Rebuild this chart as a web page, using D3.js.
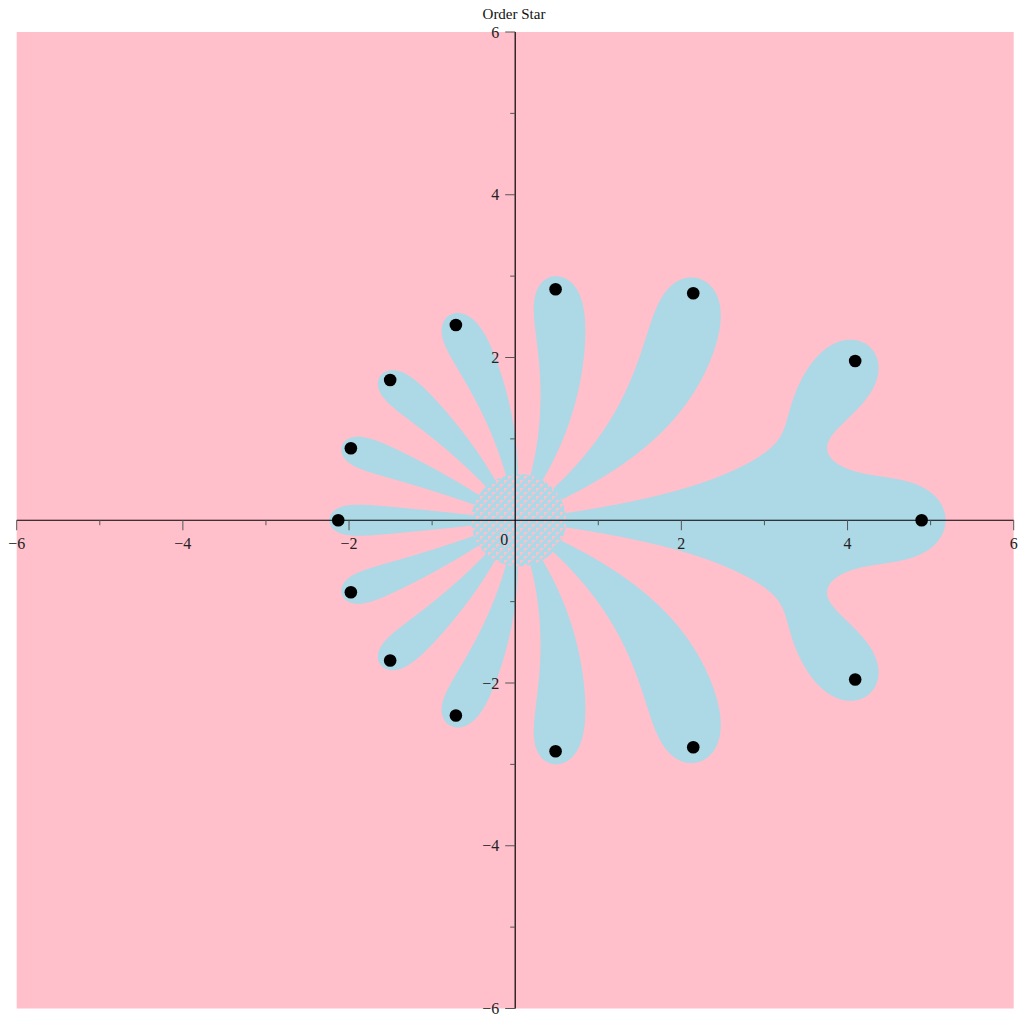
<!DOCTYPE html>
<html><head><meta charset="utf-8">
<script src="https://cdn.jsdelivr.net/npm/d3@7"></script>
<style>body{margin:0;background:#fff;} text{font-family:"Liberation Serif","Times New Roman",Times,serif;}</style>
</head><body>
<svg id="chart" width="1024" height="1024"></svg>
<script>
// ---------------- data ----------------
const chartTitle = "Order Star";
const zeroRe = [4.892, 4.092, 2.143, 0.486, -0.714, -1.505, -1.978, -2.130];
const zeroIm = [0, 1.957, 2.789, 2.838, 2.399, 1.723, 0.884, 0];
const xDomain = [-6, 6];
const yDomain = [-6, 6];
const majorTicks = [-6, -4, -2, 2, 4, 6];
const minorTicks = [-5, -3, -1, 1, 3, 5];
const originLabel = ["0"];
// model of R = P/Q compared with exp(z): order of contact at 0, number of poles (outside the view)
const orderP = 11;
const poleCount = 2;
// numerical-noise level that makes the hatched disc around the origin
const noiseLevel = 5e-9;

// ---------------- layout / style ----------------
const pink = "#FFC0CB", blue = "#ADD8E6";
const W = 1024;
const svg = d3.select("#chart");
const x = d3.scaleLinear().domain(xDomain).range([16.7, 1013.7]);
const y = d3.scaleLinear().domain(yDomain).range([1008.5, 32]);

// ---------------- maths helpers ----------------
const cmul = (a, b) => [a[0]*b[0]-a[1]*b[1], a[0]*b[1]+a[1]*b[0]];
const cabs = a => Math.hypot(a[0], a[1]);
const fact = n => { let f = 1; for (let i = 2; i <= n; i++) f *= i; return f; };
function peval(c, z) { let r = [c[c.length-1], 0]; for (let k = c.length-2; k >= 0; k--) { r = cmul(r, z); r[0] += c[k]; } return r; }
function pderiv(c) { return c.slice(1).map((v, i) => v*(i+1)); }
function lstsq(A, b) {
  const n = A.length, m = A[0].length;
  const s = [];
  for (let c = 0; c < m; c++) { let t = 0; for (let r = 0; r < n; r++) t += A[r][c]*A[r][c]; s[c] = Math.sqrt(t) || 1; }
  const M = A.map(row => row.map((v, c) => v/s[c]));
  const yv = b.slice();
  for (let k = 0; k < m; k++) {
    let norm = 0; for (let r = k; r < n; r++) norm += M[r][k]*M[r][k]; norm = Math.sqrt(norm);
    const alpha = M[k][k] > 0 ? -norm : norm;
    const v = new Array(n).fill(0); for (let r = k; r < n; r++) v[r] = M[r][k]; v[k] -= alpha;
    let vn = 0; for (let r = k; r < n; r++) vn += v[r]*v[r];
    if (vn === 0) continue;
    for (let c = k; c < m; c++) { let d = 0; for (let r = k; r < n; r++) d += v[r]*M[r][c]; const f = 2*d/vn; for (let r = k; r < n; r++) M[r][c] -= f*v[r]; }
    let d = 0; for (let r = k; r < n; r++) d += v[r]*yv[r]; const f = 2*d/vn; for (let r = k; r < n; r++) yv[r] -= f*v[r];
  }
  const xs = new Array(m).fill(0);
  for (let k = m-1; k >= 0; k--) { let t = yv[k]; for (let c = k+1; c < m; c++) t -= M[k][c]*xs[c]; xs[k] = t/M[k][k]; }
  return xs.map((v, c) => v/s[c]);
}

const zerosUpper = zeroRe.map((r, i) => [r, zeroIm[i]]);
const allZeros = [];
zerosUpper.forEach(z => { allZeros.push(z); if (Math.abs(z[1]) > 1e-9) allZeros.push([z[0], -z[1]]); });
const deg = allZeros.length;

// fit R = P/Q with P(z_k)=0 at the read zeros and P = e^z Q + O(z^(orderP+1))
function fitModel() {
  const nq = poleCount, p = orderP;
  let w = zerosUpper.map(z => Math.pow(cabs(z), deg)/fact(deg));
  let P, Q;
  for (let iter = 0; iter < 6; iter++) {
    const rows = [], rhs = [];
    zerosUpper.forEach((z, k) => {
      const pw = [[1, 0]]; for (let j = 1; j <= deg; j++) pw[j] = cmul(pw[j-1], z);
      const T = [0, 0]; for (let j = 0; j <= p; j++) { T[0] += pw[j][0]/fact(j); T[1] += pw[j][1]/fact(j); }
      const cols = [];
      for (let i = 1; i <= nq; i++) { const c = [0, 0]; for (let j = i; j <= p; j++) { c[0] += pw[j][0]/fact(j-i); c[1] += pw[j][1]/fact(j-i); } cols.push(c); }
      for (let j = p+1; j <= deg; j++) cols.push(pw[j]);
      rows.push(cols.map(c => c[0]/w[k])); rhs.push(-T[0]/w[k]);
      if (Math.abs(z[1]) > 1e-9) { rows.push(cols.map(c => c[1]/w[k])); rhs.push(-T[1]/w[k]); }
    });
    const sol = lstsq(rows, rhs);
    Q = [1].concat(sol.slice(0, nq));
    P = d3.range(deg+1).map(j => {
      if (j <= p) { let s = 0; for (let i = 0; i <= Math.min(j, nq); i++) s += Q[i]/fact(j-i); return s; }
      return sol[nq + j - p - 1];
    });
    const dP = pderiv(P);
    w = zerosUpper.map(z => cabs(peval(dP, z)));
  }
  return {P, Q};
}
const {P: Pc, Q: Qc} = fitModel();

// ---------------- fields on a grid ----------------
const nx = 800, ny = 800;
const star = new Float64Array(nx*ny);
const noise = new Float64Array(nx*ny);
for (let j = 0; j < ny; j++) {
  const yy = yDomain[1] - (j+0.5)*(yDomain[1]-yDomain[0])/ny;
  for (let i = 0; i < nx; i++) {
    const xx = xDomain[0] + (i+0.5)*(xDomain[1]-xDomain[0])/nx;
    let re = Pc[Pc.length-1], im = 0;
    for (let k = Pc.length-2; k >= 0; k--) { const t = re*xx - im*yy + Pc[k]; im = re*yy + im*xx; re = t; }
    let qr = Qc[Qc.length-1], qi = 0;
    for (let k = Qc.length-2; k >= 0; k--) { const t = qr*xx - qi*yy + Qc[k]; qi = qr*yy + qi*xx; qr = t; }
    let f = -(0.5*Math.log(re*re+im*im) - 0.5*Math.log(qr*qr+qi*qi) - xx);
    if (!isFinite(f)) f = 50;
    star[j*nx+i] = Math.max(-50, Math.min(50, f));
    let h = -30;
    if (Math.abs(xx) < 1.5 && Math.abs(yy) < 1.5) {
      const qd = qr*qr + qi*qi;
      const rr = (re*qr + im*qi)/qd, ri = (im*qr - re*qi)/qd;
      const ex = Math.exp(-xx), er = ex*Math.cos(yy), ei = -ex*Math.sin(yy);
      const dr = rr*er - ri*ei - 1, di = rr*ei + ri*er;
      h = -Math.log10(Math.hypot(dr, di) + 1e-300);
    }
    noise[j*nx+i] = Math.min(30, h);
  }
}
const starContours = d3.contours().size([nx, ny]).thresholds([0])(star);
const noiseContours = d3.contours().size([nx, ny]).thresholds([-Math.log10(noiseLevel)])(noise);
const gridToScreen = d3.geoTransform({ point(gx, gy) {
  this.stream.point(x(xDomain[0] + gx*(xDomain[1]-xDomain[0])/nx), y(yDomain[1] - gy*(yDomain[1]-yDomain[0])/ny));
}});
const path = d3.geoPath(gridToScreen);

// ---------------- draw ----------------
const defs = svg.append("defs");
defs.append("clipPath").attr("id", "plotclip").append("rect")
  .attr("x", x(xDomain[0])).attr("y", y(yDomain[1])).attr("width", x(xDomain[1])-x(xDomain[0])).attr("height", y(yDomain[0])-y(yDomain[1]));
const pat = defs.append("pattern").attr("id", "hatch").attr("patternUnits", "userSpaceOnUse").attr("width", 8).attr("height", 8);
pat.append("rect").attr("width", 8).attr("height", 8).attr("fill", blue);
pat.append("path").attr("d", "M0,0L4,0L0,4Z M4,4L8,4L4,8Z").attr("fill", pink);

svg.append("rect").attr("x", x(xDomain[0])).attr("y", y(yDomain[1]))
  .attr("width", x(xDomain[1])-x(xDomain[0])).attr("height", y(yDomain[0])-y(yDomain[1])).attr("fill", pink);
const plot = svg.append("g").attr("clip-path", "url(#plotclip)");
plot.selectAll("path.star").data(starContours).join("path").attr("class", "star").attr("d", path).attr("fill", blue);
plot.selectAll("path.noise").data(noiseContours).join("path").attr("class", "noise").attr("d", path).attr("fill", "url(#hatch)");

// axes
const tickColor = "#555", labelColor = "#222";
const fmt = d => d < 0 ? "\u2212" + Math.abs(d) : String(d);
svg.append("line").attr("x1", x(xDomain[0])).attr("x2", x(xDomain[1])).attr("y1", y(0)).attr("y2", y(0)).attr("stroke", "#000").attr("stroke-width", 1.2);
svg.append("line").attr("x1", x(0)).attr("x2", x(0)).attr("y1", y(yDomain[0])).attr("y2", y(yDomain[1])).attr("stroke", "#000").attr("stroke-width", 1.2);
const gx = svg.append("g");
gx.selectAll("line.maj").data(majorTicks).join("line").attr("class", "maj").attr("x1", d => x(d)).attr("x2", d => x(d)).attr("y1", y(0)).attr("y2", y(0)+10).attr("stroke", tickColor);
gx.selectAll("line.min").data(minorTicks).join("line").attr("class", "min").attr("x1", d => x(d)).attr("x2", d => x(d)).attr("y1", y(0)).attr("y2", y(0)+5).attr("stroke", tickColor);
gx.selectAll("text").data(majorTicks).join("text").attr("x", d => x(d)).attr("y", y(0)+29).attr("text-anchor", "middle")
  .attr("font-size", 16).attr("fill", labelColor).text(fmt);
const gy = svg.append("g");
gy.selectAll("line.maj").data(majorTicks).join("line").attr("class", "maj").attr("x1", x(0)-10).attr("x2", x(0)).attr("y1", d => y(d)).attr("y2", d => y(d)).attr("stroke", tickColor);
gy.selectAll("line.min").data(minorTicks).join("line").attr("class", "min").attr("x1", x(0)-5).attr("x2", x(0)).attr("y1", d => y(d)).attr("y2", d => y(d)).attr("stroke", tickColor);
gy.selectAll("text").data(majorTicks).join("text").attr("x", x(0)-16).attr("y", d => y(d)+5.5).attr("text-anchor", "end")
  .attr("font-size", 16).attr("fill", labelColor).text(fmt);
svg.selectAll("text.origin").data(originLabel).join("text").attr("class", "origin")
  .attr("x", x(0)-11).attr("y", y(0)+25).attr("text-anchor", "middle").attr("font-size", 16).attr("fill", labelColor).text(d => d);

// zeros
svg.append("g").selectAll("circle").data(allZeros).join("circle")
  .attr("cx", d => x(d[0])).attr("cy", d => y(d[1])).attr("r", 6.3).attr("fill", "#000");

svg.append("text").attr("x", W/2 + 2).attr("y", 19).attr("text-anchor", "middle").attr("font-size", 15).attr("fill", "#111").text(chartTitle);
</script>
</body></html>
